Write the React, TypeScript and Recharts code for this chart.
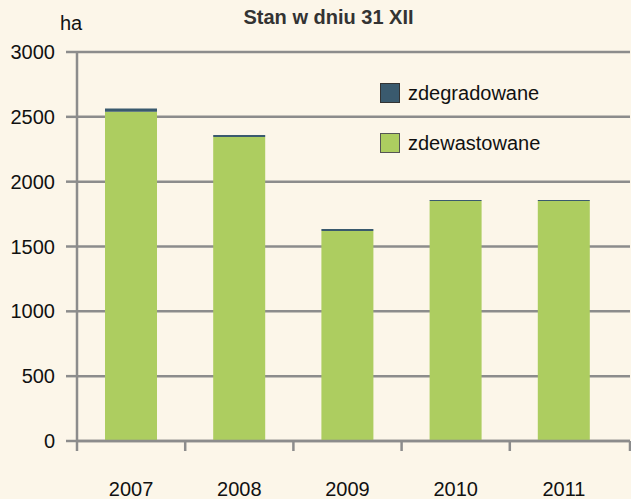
import React from 'react';
import { BarChart, Bar, XAxis, YAxis, CartesianGrid } from 'recharts';

const years = ['2007', '2008', '2009', '2010', '2011'];
const zdewastowane = [2540, 2345, 1620, 1850, 1850];
const zdegradowane = [25, 15, 15, 8, 8];
const yTicks = [0, 500, 1000, 1500, 2000, 2500, 3000];

const data = years.map((y, i) => ({ year: y, zdewastowane: zdewastowane[i], zdegradowane: zdegradowane[i] }));

const GRID = '#8c8c8c';
const GREEN = '#adcd60';
const DARK = '#3a5a6e';
const BG = '#fcf6e9';
const FONT = '"Liberation Sans", Arial, sans-serif';
const X_PAD_RIGHT = 12;

const XTick = (props: any) => {
  const { x, y, payload, index } = props;
  const off = payload && payload.offset != null ? payload.offset : 54;
  return (
    <g>
      <line x1={x - off} x2={x - off} y1={y} y2={y + 10} stroke={GRID} strokeWidth={2.5} />
      {index === years.length - 1 && (
        <line x1={x + off + X_PAD_RIGHT} x2={x + off + X_PAD_RIGHT} y1={y} y2={y + 10} stroke={GRID} strokeWidth={2.5} />
      )}
      <text x={x} y={y + 55} textAnchor="middle" fontSize={20} fill="#111" fontFamily={FONT}>
        {payload.value}
      </text>
    </g>
  );
};

export default function App() {
  return (
    <div style={{ position: 'absolute', left: 0, top: 0, width: 631, height: 499, background: BG, fontFamily: FONT }}>
      <div style={{ position: 'absolute', left: 0, width: 631, top: 6, textAlign: 'center', fontWeight: 'bold', fontSize: 20, color: '#333', paddingLeft: 26, boxSizing: 'border-box' }}>
        Stan w dniu 31 XII
      </div>
      <div style={{ position: 'absolute', left: 60, top: 12, fontSize: 20, color: '#111' }}>ha</div>
      <div style={{ position: 'absolute', left: 0, top: 0 }}>
        <BarChart width={631} height={499} data={data} margin={{ top: 52, right: 1, bottom: 0, left: 0 }}>
          <CartesianGrid vertical={false} stroke={GRID} strokeWidth={2.5} />
          <XAxis
            dataKey="year"
            height={58}
            axisLine={{ stroke: GRID, strokeWidth: 2.5 }}
            tickLine={false}
            tickSize={0}
            tickMargin={0}
            padding={{ left: 0, right: X_PAD_RIGHT }}
            tick={<XTick />}
            interval={0}
          />
          <YAxis
            width={77}
            domain={[0, 3000]}
            ticks={yTicks}
            interval={0}
            axisLine={{ stroke: GRID, strokeWidth: 2.5 }}
            tickLine={{ stroke: GRID, strokeWidth: 2.5 }}
            tickSize={11}
            tickMargin={11}
            tick={{ fontSize: 20, fill: '#111', fontFamily: FONT }}
          />
          <Bar dataKey="zdewastowane" stackId="a" fill={GREEN} barSize={52} isAnimationActive={false} />
          <Bar dataKey="zdegradowane" stackId="a" fill={DARK} barSize={52} isAnimationActive={false} />
        </BarChart>
      </div>
      <div style={{ position: 'absolute', left: 380, top: 83, fontSize: 20, color: '#111', lineHeight: '20px', zIndex: 2 }}>
        <div style={{ display: 'flex', alignItems: 'center', height: 20 }}>
          <span style={{ width: 18, height: 18, background: DARK, border: '1px solid #333', display: 'inline-block' }} />
          <span style={{ marginLeft: 8 }}>zdegradowane</span>
        </div>
        <div style={{ display: 'flex', alignItems: 'center', height: 20, marginTop: 30 }}>
          <span style={{ width: 18, height: 18, background: GREEN, border: '1px solid #555', display: 'inline-block' }} />
          <span style={{ marginLeft: 8 }}>zdewastowane</span>
        </div>
      </div>
    </div>
  );
}
